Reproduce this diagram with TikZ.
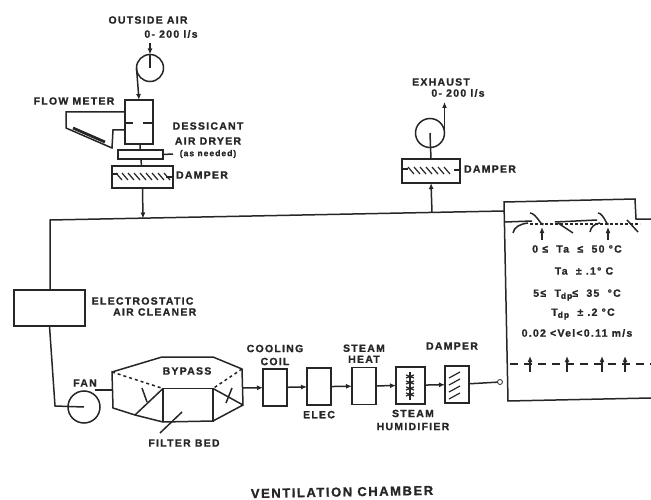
\documentclass[tikz,border=0pt]{standalone}
\usepackage{fontspec}
\setmainfont{Liberation Sans}[LetterSpace=12,BoldFeatures={FakeBold=1.2}]
\usepackage{tikz}
\usetikzlibrary{arrows.meta, positioning}

\begin{document}
\begin{tikzpicture}[
  x=1pt, y=-1pt, >={Latex[length=6pt,width=5pt]}, line width=1.5pt, color=black!85,
  block/.style = {draw, rectangle, inner sep=0pt, outer sep=0pt},
  coil/.style  = {block, minimum width=24pt, minimum height=37pt},
  fan/.style   = {draw, circle, inner sep=0pt, outer sep=0pt, minimum size=27pt},
  lab/.style   = {font=\bfseries\fontsize{10.5}{12}\selectfont, inner sep=0pt, align=center},
  hatch/.style = {line width=1.2pt},
]
\useasboundingbox (0,0) rectangle (651,500);

%--- Outside air, dryer, damper ---
  \node[fan]                                             (ofan)   at (150,68) {};
  \node[block, minimum width=28pt, minimum height=44pt]  (dryer)  at (139,122) {};
  \node[block, minimum width=45pt, minimum height=9pt]   (drain)  at (140.5,154.5) {};
  \node[block, minimum width=61pt, minimum height=22pt]  (dampa)  at (142.5,177) {};
  \coordinate (oin)  at (150,43);
  \coordinate (tapa) at (143,218.5);
  \coordinate (tick) at (173,154);

  \node[lab] (toutside) at (148,20)  {OUTSIDE AIR};
  \node[lab] (toflow)   at (171,34)  {0- 200 l/s};
  \node[lab] (tmeter)   at (74,101)  {FLOW METER};
  \node[lab] (tdess)    at (208,126) {DESSICANT};
  \node[lab] (tdry)     at (208,141) {AIR DRYER};
  \node[lab, font=\bfseries\fontsize{8.5}{10}\selectfont] (tneed) at (208,154) {(as needed)};
  \node[lab] (tdampa)   at (202,175) {DAMPER};

  \draw[->] (oin) -- (ofan.north);
  \draw (ofan.north) -- (ofan.center);
  \draw[->] (ofan.west) -- (dryer.north);
  \draw (dryer) -- (drain);
  \draw (drain) -- (dampa);
  \draw (drain.east) -- (tick);
  \draw[->] (dampa.south) -- (tapa);
  \draw (dryer.west |- 0,123) -- ++(8,0) (dryer.east |- 0,123) -- ++(-10,0);

  % flow meter
  \draw (125,112) -- (66,112) -- (66,128) -- (112,148) -- (113,130) -- (125,130);
  \draw[line width=2.8pt] (73,128) -- (105,142);

  \foreach \xa in {116,122,...,164}
    \draw[hatch] (\xa,173) -- (\xa+6,180);
  \draw[hatch] (112,174) -- (118,174) (166,177) -- (173,177);

%--- Main duct ---
  \coordinate (dcorner) at (50,220);
  \coordinate (chtop)   at (504,202);
  \coordinate (chjoin)  at (504,211);
  \node[block, minimum width=71pt, minimum height=36pt] (clean) at (49.5,308) {};
  \node[lab, anchor=west] (tclean) at (91,301) {ELECTROSTATIC};
  \node[lab, anchor=east] (tair)   at (197,312) {AIR CLEANER};
  \draw (chjoin) -- (dcorner) -- (clean.north -| dcorner);
  \coordinate (fcorner) at (55,406);

%--- Fan and filter bed ---
  \node[fan, minimum size=32pt] (sfan) at (84,407) {};
  \node[lab] (tfan) at (85,383) {FAN};
  \draw (clean.south) -- (fcorner) -- (sfan.center);
  \coordinate (bedin)  at (112,390);
  \coordinate (bedout) at (243,388);
  \draw (sfan.north east |- bedin) -- (bedin);

  \draw (112,372) -- (162,357) -- (213,357) -- (242,369) -- (243,405) -- (213,421)
        -- (163,422) -- (135,415) -- (113,408) -- cycle;
  \node[block, minimum width=50pt, minimum height=33pt] (bed) at (188,405) {};
  \draw[dashed] (112,372) -- (bed.north west);
  \draw[dashed] (242,369) -- (bed.north east);
  \draw (bed.north west) -- (135,415);
  \draw (bed.north east) -- (243,405);
  \draw (142,388) -- (147,402);
  \draw (232,388) -- (226,403);
  \draw (182,412) -- (160,433);
  \node[lab] (tbypass) at (187,371) {BYPASS};
  \node[lab] (tbed)    at (184,443) {FILTER BED};

%--- Coils, humidifier, damper ---
  \node[coil]                                       (cool)  at (275,387.5) {};
  \node[coil, right=20pt of cool, yshift=.8pt]      (eheat) {};
  \node[coil, right=21pt of eheat, yshift=.6pt]     (sheat) {};
  \node[coil, right=20pt of sheat, minimum width=29pt, yshift=.8pt] (humid) {};
  \node[coil, right=20pt of humid, yshift=.8pt]     (dampb) {};

  \node[lab, above=3pt of cool]   (tcool)  {COOLING\\[1pt]COIL};
  \node[lab, below=5pt of eheat]  (telec)  {ELEC};
  \node[lab, above=4pt of sheat]  (tsteam) {STEAM\\[-1pt]HEAT};
  \node[lab] (thumid) at (413,420) {STEAM\\[1pt]HUMIDIFIER};
  \node[lab] (tdampb) at (452,346) {DAMPER};

  \draw[->] (bedout) -- (cool);
  \draw[->] (cool)   -- (eheat);
  \draw[->] (eheat)  -- (sheat);
  \draw[->] (sheat)  -- (humid);
  \draw[->] (humid)  -- (dampb);

  \draw[hatch] (410,372) -- (410,400);
  \foreach \ya in {375,381,387,393}
    \draw[hatch] (406,\ya) -- (414,\ya+3) (414,\ya) -- (406,\ya+3);
  \foreach \ya in {375,382,...,396}
    \draw[hatch] (449,\ya+3) -- (460,\ya-3);

  \node[draw, circle, inner sep=0pt, outer sep=0pt, minimum size=5pt, line width=.8pt] (inlet) at (500,382) {};
  \draw (dampb) -- (inlet);

%--- Exhaust ---
  \node[fan, minimum size=29pt]                         (xfan)  at (430,133) {};
  \node[block, minimum width=58pt, minimum height=24pt] (dampx) at (431,171) {};
  \coordinate (xout) at (444.5,102);
  \coordinate (tapb) at (432,212.5);
  \draw[->] (tapb) -- (dampx.south);
  \draw (dampx.north) -- (xfan.center);
  \draw[->] (xfan.east) -- (xout);
  \foreach \xa in {408,414,...,448}
    \draw[hatch] (\xa,167) -- (\xa+6,174);
  \draw[hatch] (402,169) -- (408,169) (454,170) -- (460,170);
  \node[lab] (texhaust) at (441,82)  {EXHAUST};
  \node[lab] (txflow)   at (458,93)  {0- 200 l/s};
  \node[lab] (tdampx)   at (490,169) {DAMPER};

%--- Ventilation chamber ---
  \coordinate (chbl) at (508,401);
  \coordinate (chbr) at (651,398);
  \coordinate (chtr) at (635,199);
  \coordinate (chrj) at (636,219);
  \coordinate (chre) at (651,219);
  \draw (chbr) -- (chbl) -- (chtop) -- (chtr) -- (chrj) -- (chre);
  \draw (505,222) -- (532,221) (555,222) -- (597,220);
  \draw[densely dashed, line width=1.2pt] (530,224) -- (640,224);

  % diffusers
  \foreach \xa/\xb in {530/543,598/608}
    \draw (\xa,213) to[out=0,in=-90] (\xb,223);
  \draw (513,233) .. controls (514,227) and (520,224) .. (528,223);
  \draw (590,232) .. controls (591,227) and (594,224) .. (600,223);
  \draw (558,223) -- (573,233);
  \draw (627,220) -- (638,232);
  \foreach \xa in {542,608}
    \draw[->] (\xa,240) -- (\xa,227);

  \node[lab] (trangea) at (577,249) {0 ≤\ \ Ta\ \ ≤\ \ 50 °C};
  \node[lab] (ttola)   at (584,271) {Ta\ \ ±\ .1°\ C};
  \node[lab] (trangeb) at (577,295) {5≤\ \ T\raisebox{-2pt}{\fontsize{8.5}{10}\selectfont dp}≤\ \ 35\ \ °C};
  \node[lab] (ttolb)   at (583,314) {T\raisebox{-2pt}{\fontsize{8.5}{10}\selectfont dp}\ \ ±\ .2\ °C};
  \node[lab] (tvel) at (577,333) {0.02 <Vel<0.11 m/s};

  \draw[dash pattern=on 8pt off 6pt] (510,364) -- (651,364);
  \foreach \xa in {530,567,602,625}
    \draw[->] (\xa,372) -- (\xa,356);

  \node[lab, font=\bfseries\fontsize{13}{15}\selectfont, rotate=1] (ttitle) at (342,492) {VENTILATION CHAMBER};
\end{tikzpicture}
\end{document}
